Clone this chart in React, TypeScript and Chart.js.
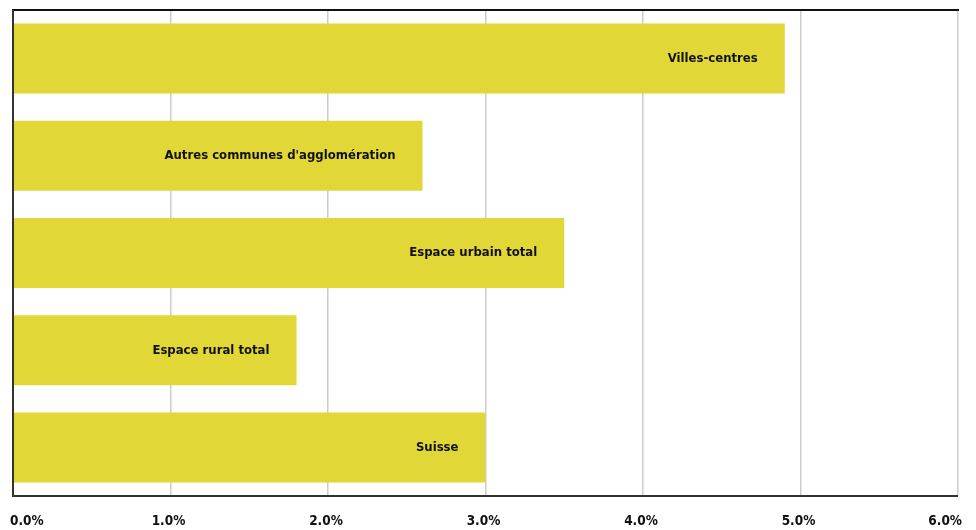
import React, { useEffect, useRef } from "react";
import { Chart, registerables } from "chart.js";

Chart.register(...registerables);

const categories = [
  "Villes-centres",
  "Autres communes d'agglomération",
  "Espace urbain total",
  "Espace rural total",
  "Suisse",
];
const values = [4.9, 2.6, 3.5, 1.8, 3.0];
const tickValues = [0, 1, 2, 3, 4, 5, 6];
const tickLabels = ["0.0%", "1.0%", "2.0%", "3.0%", "4.0%", "5.0%", "6.0%"];

const FONT = "'DejaVu Sans Condensed', 'DejaVu Sans', sans-serif";

export default function App() {
  const ref = useRef<HTMLCanvasElement | null>(null);

  useEffect(() => {
    if (!ref.current) return;
    const labelPlugin = {
      id: "labels",
      afterDatasetsDraw(chart: any) {
        const ctx = chart.ctx;
        const meta = chart.getDatasetMeta(0);
        ctx.save();
        ctx.font = `bold 13px ${FONT}`;
        ctx.fillStyle = "#111";
        ctx.textAlign = "right";
        ctx.textBaseline = "middle";
        meta.data.forEach((bar: any, i: number) => {
          ctx.fillText(categories[i], bar.x - 27, bar.y);
        });
        ctx.restore();
      },
      afterDraw(chart: any) {
        const ctx = chart.ctx;
        const area = chart.chartArea;
        const xs = chart.scales.x;
        ctx.save();
        ctx.strokeStyle = "#111";
        ctx.lineWidth = 2;
        ctx.beginPath();
        ctx.moveTo(area.left - 1, area.top);
        ctx.lineTo(area.right + 1, area.top);
        ctx.stroke();
        ctx.strokeStyle = "#333";
        ctx.beginPath();
        ctx.moveTo(area.left, area.top);
        ctx.lineTo(area.left, area.bottom);
        ctx.lineTo(area.right, area.bottom);
        ctx.stroke();
        ctx.font = `bold 13.5px ${FONT}`;
        ctx.fillStyle = "#111";
        ctx.textBaseline = "middle";
        const y = area.bottom + 25;
        tickValues.forEach((v, i) => {
          const px = xs.getPixelForValue(v);
          if (i === 0) {
            ctx.textAlign = "left";
            ctx.fillText(tickLabels[i], px - 3, y);
          } else if (i === tickValues.length - 1) {
            ctx.textAlign = "right";
            ctx.fillText(tickLabels[i], px + 4, y);
          } else {
            ctx.textAlign = "center";
            ctx.fillText(tickLabels[i], px - 2, y);
          }
        });
        ctx.restore();
      },
    };

    const chart = new Chart(ref.current, {
      type: "bar",
      data: {
        labels: categories,
        datasets: [
          {
            data: values,
            backgroundColor: "#E1D736",
            borderWidth: 0,
            categoryPercentage: 1,
            barPercentage: 0.72,
          },
        ],
      },
      options: {
        indexAxis: "y",
        animation: false,
        responsive: false,
        maintainAspectRatio: false,
        layout: { padding: { left: 13, right: 18, top: 10, bottom: 0 } },
        plugins: { legend: { display: false }, tooltip: { enabled: false } },
        scales: {
          x: {
            min: 0,
            max: 6,
            ticks: { display: false, stepSize: 1 },
            grid: { color: "#cccccc", lineWidth: 1.5, drawTicks: false },
            border: { display: false },
            afterFit(scale: any) {
              scale.height = 34;
            },
          },
          y: {
            ticks: { display: false },
            grid: { display: false, drawTicks: false },
            border: { display: false },
            afterFit(scale: any) {
              scale.width = 0;
            },
          },
        },
      },
      plugins: [labelPlugin],
    });
    return () => chart.destroy();
  }, []);

  return (
    <div style={{ position: "fixed", left: 0, top: 0, width: 976, height: 530, background: "#fff" }}>
      <canvas ref={ref} width={976} height={530} style={{ width: 976, height: 530 }} />
    </div>
  );
}
